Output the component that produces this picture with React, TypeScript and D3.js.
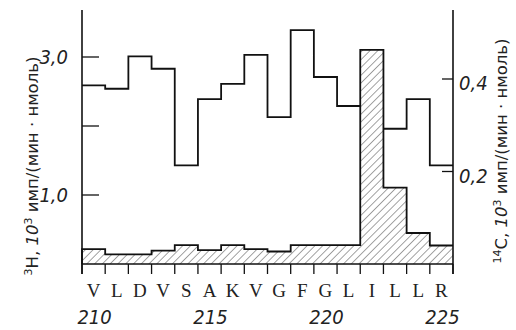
import React from "react";
import * as d3 from "d3";

// residues 210..225
const residues = ["V", "L", "D", "V", "S", "A", "K", "V", "G", "F", "G", "L", "I", "L", "L", "R"];
const positions = [210, 211, 212, 213, 214, 215, 216, 217, 218, 219, 220, 221, 222, 223, 224, 225];
const numberLabels = [210, 215, 220, 225];

// 3H, 10^3 cpm/(min*nmol) - left axis (null = hidden behind the hatched bar)
const h3Values = [2.59, 2.54, 3.01, 2.83, 1.43, 2.39, 2.61, 3.03, 2.13, 3.39, 2.71, 2.29, null, 1.96, 2.39, 1.43];
// 14C, 10^3 cpm/(min*nmol) - right axis
const c14Values = [0.032, 0.021, 0.021, 0.029, 0.041, 0.03, 0.041, 0.032, 0.027, 0.041, 0.041, 0.041, 0.463, 0.165, 0.067, 0.04];

const leftTicks = [1.0, 2.0, 3.0];
const leftLabels = [1.0, 3.0];
const rightTicks = [0.2, 0.4];

const W = 516;
const H = 330;
const x0 = 82;
const x1 = 453;
const base = 264;
const top = 10;

const numFont = "'Liberation Sans Narrow', 'DejaVu Sans Condensed', 'Liberation Sans', sans-serif";

function stepPoints(vals: (number | null)[], x: d3.ScaleBand<number>) {
  const pts: [number, number | null][] = [];
  vals.forEach((v, i) => {
    const p = positions[i];
    pts.push([x(p)!, v]);
    pts.push([x(p)! + x.bandwidth(), v]);
  });
  return pts;
}

export default function App() {
  const x = d3.scaleBand<number>().domain(positions).range([x0, x1]).padding(0);
  const yL = d3.scaleLinear().domain([0, 3]).range([base, 57]);
  const yR = d3.scaleLinear().domain([0, 0.4]).range([base, 79]);

  const h3Line = d3
    .line<[number, number | null]>()
    .defined((d) => d[1] !== null)
    .x((d) => d[0])
    .y((d) => yL(d[1] as number));

  const c14Area = d3
    .area<[number, number | null]>()
    .x((d) => d[0])
    .y0(base)
    .y1((d) => yR(d[1] as number));

  const c14Top = d3
    .line<[number, number | null]>()
    .x((d) => d[0])
    .y((d) => yR(d[1] as number));

  const cPts = stepPoints(c14Values, x);
  const hPts = stepPoints(h3Values, x);
  const boundaries = d3.range(positions.length + 1).map((i) => x0 + i * x.bandwidth());

  return (
    <svg width={W} height={H} style={{ position: "absolute", left: 0, top: 0, background: "#fff" }}>
      <defs>
        <pattern id="hatch" width={5.5} height={5.5} patternUnits="userSpaceOnUse" patternTransform="rotate(45)">
          <line x1={0} y1={0} x2={0} y2={5.5} stroke="#333" strokeWidth={0.9} />
        </pattern>
      </defs>

      {/* 14C hatched histogram */}
      <path d={c14Area(cPts) ?? ""} fill="url(#hatch)" stroke="none" />
      <path
        d={`M${x0},${base}L${x0},${yR(c14Values[0])}` + (c14Top(cPts) ?? "").replace(/^M/, "L")}
        fill="none"
        stroke="#111"
        strokeWidth={1.8}
      />

      {/* 3H step line */}
      <path d={h3Line(hPts) ?? ""} fill="none" stroke="#111" strokeWidth={1.8} />

      {/* axes */}
      <line x1={x0} y1={top} x2={x0} y2={base + 10} stroke="#111" strokeWidth={1.6} />
      <line x1={x1} y1={top} x2={x1} y2={base + 10} stroke="#111" strokeWidth={1.6} />
      <line x1={x0} y1={base} x2={x1} y2={base} stroke="#111" strokeWidth={1.6} />

      {boundaries.map((bx, i) => (
        <line key={i} x1={bx} y1={base} x2={bx} y2={base + 10} stroke="#111" strokeWidth={1.3} />
      ))}

      {leftTicks.map((t) => (
        <line key={t} x1={x0} y1={yL(t)} x2={x0 + 17} y2={yL(t)} stroke="#111" strokeWidth={1.3} />
      ))}
      {leftLabels.map((t) => (
        <text
          key={t}
          x={68}
          y={yL(t) + 7}
          textAnchor="end"
          fontFamily={numFont}
          fontStyle="italic"
          fontSize={20}
          fill="#222"
        >
          {t.toFixed(1).replace(".", ",")}
        </text>
      ))}

      {rightTicks.map((t) => (
        <g key={t}>
          <line x1={x1} y1={yR(t)} x2={x1 - 11} y2={yR(t)} stroke="#111" strokeWidth={1.3} />
          <text
            x={459}
            y={yR(t) + 11}
            textAnchor="start"
            fontFamily={numFont}
            fontStyle="italic"
            fontSize={20}
            fill="#222"
          >
            {t.toFixed(1).replace(".", ",")}
          </text>
        </g>
      ))}

      {/* residue letters */}
      {residues.map((r, i) => (
        <text
          key={i}
          x={x(positions[i])! + x.bandwidth() / 2}
          y={297}
          textAnchor="middle"
          fontFamily="'Liberation Serif', serif"
          fontSize={19}
          fill="#222"
        >
          {r}
        </text>
      ))}

      {numberLabels.map((n) => (
        <text
          key={n}
          x={x(n)! + x.bandwidth() / 2 + 1}
          y={324}
          textAnchor="middle"
          fontFamily={numFont}
          fontStyle="italic"
          fontSize={20}
          fill="#222"
        >
          {n}
        </text>
      ))}

      {/* axis titles */}
      <text
        transform="translate(38,166) rotate(-90)"
        textAnchor="middle"
        fontFamily="'DejaVu Sans', sans-serif"
        fontSize={16.5}
        fill="#222"
      >
        <tspan baselineShift="super" fontSize={11}>3</tspan>
        <tspan>H, </tspan>
        <tspan fontStyle="italic">10</tspan>
        <tspan baselineShift="super" fontSize={11}>3</tspan>
        <tspan> имп/(мин · нмоль)</tspan>
      </text>
      <text
        transform="translate(507,151) rotate(-90)"
        textAnchor="middle"
        fontFamily="'DejaVu Sans', sans-serif"
        fontSize={16.5}
        fill="#222"
      >
        <tspan baselineShift="super" fontSize={11}>14</tspan>
        <tspan>C, </tspan>
        <tspan fontStyle="italic">10</tspan>
        <tspan baselineShift="super" fontSize={11}>3</tspan>
        <tspan> имп/(мин · нмоль)</tspan>
      </text>
    </svg>
  );
}
